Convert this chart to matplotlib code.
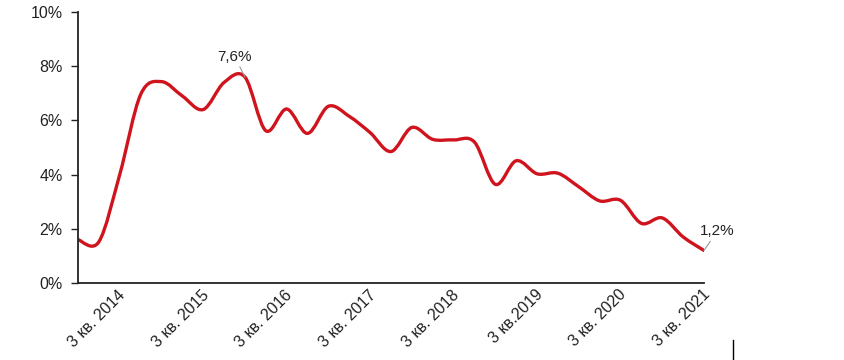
import numpy as np
import matplotlib
matplotlib.use("Agg")
import matplotlib.pyplot as plt
from matplotlib.path import Path
from matplotlib.patches import PathPatch
from matplotlib.lines import Line2D
from matplotlib.ticker import PercentFormatter
from matplotlib.transforms import ScaledTranslation

plt.rcParams['font.family'] = ['Liberation Sans', 'DejaVu Sans']

# quarterly values, 1 кв. 2014 .. 3 кв. 2021, %
values = [1.6, 1.52, 4.0, 6.95, 7.43, 6.9, 6.4, 7.4, 7.6, 5.62,
          6.42, 5.52, 6.52, 6.15, 5.55, 4.85, 5.74, 5.3, 5.28, 5.2,
          3.64, 4.51, 4.03, 4.05, 3.55, 3.03, 3.05, 2.2, 2.4, 1.7,
          1.2]
tick_pos = [2, 6, 10, 14, 18, 22, 26, 30]
tick_labels = ['3 кв. 2014', '3 кв. 2015', '3 кв. 2016', '3 кв. 2017',
               '3 кв. 2018', '3 кв.2019', '3 кв. 2020', '3 кв. 2021']
red = '#d0141e'

fig = plt.figure(figsize=(8.44, 3.6), dpi=100)
ax = fig.add_axes([0.0924, 0.2139, 0.7417, 0.7528])

# smooth line (Catmull-Rom as bezier segments)
x = np.arange(len(values), dtype=float)
y = np.array(values, dtype=float)
pts = np.column_stack([x, y])
verts = [pts[0]]
codes = [Path.MOVETO]
for i in range(len(pts) - 1):
    p0 = pts[max(i - 1, 0)]
    p1 = pts[i]
    p2 = pts[i + 1]
    p3 = pts[min(i + 2, len(pts) - 1)]
    c1 = p1 + (p2 - p0) / 6.
    c2 = p2 - (p3 - p1) / 6.
    verts += [c1, c2, p2]
    codes += [Path.CURVE4] * 3
ax.add_patch(PathPatch(Path(verts, codes), fill=False, edgecolor=red,
                       lw=2.4, capstyle='round', joinstyle='round'))

ax.set_xlim(0, len(values) - 1)
ax.set_ylim(0, 10)
ax.set_yticks(np.arange(0, 11, 2))
ax.yaxis.set_major_formatter(PercentFormatter(decimals=0))
ax.set_xticks(tick_pos)
ax.set_xticklabels(tick_labels, rotation=45, ha='right', va='top',
                   rotation_mode='anchor')
ax.tick_params(axis='x', length=0, pad=3, labelsize=11.5, colors='#222222')
ax.tick_params(axis='y', length=5, width=1, pad=6, labelsize=11.5,
               colors='#222222')
shift = ScaledTranslation(-2 / 100, 0, fig.dpi_scale_trans)
for lab in ax.get_xticklabels():
    lab.set_transform(lab.get_transform() + shift)
for s in ['top', 'right']:
    ax.spines[s].set_visible(False)
for s in ['left', 'bottom']:
    ax.spines[s].set_linewidth(1.3)
    ax.spines[s].set_color('#222222')

ax.annotate('7,6%', xy=(8, values[8]), xytext=(-7.2, 14.4),
            textcoords='offset points', ha='center', va='center',
            fontsize=11, color='#222222',
            arrowprops=dict(arrowstyle='-', color='#999999', lw=0.8,
                            shrinkA=0, shrinkB=0))
ax.annotate('1,2%', xy=(30, values[30]), xytext=(9.4, 13.7),
            textcoords='offset points', ha='center', va='center',
            fontsize=11, color='#222222', annotation_clip=False,
            arrowprops=dict(arrowstyle='-', color='#999999', lw=0.8,
                            shrinkA=0, shrinkB=0))

fig.add_artist(Line2D([733 / 844, 733 / 844], [0, 20 / 360],
                      color='black', lw=1))

fig.savefig('out.png', dpi=100)
